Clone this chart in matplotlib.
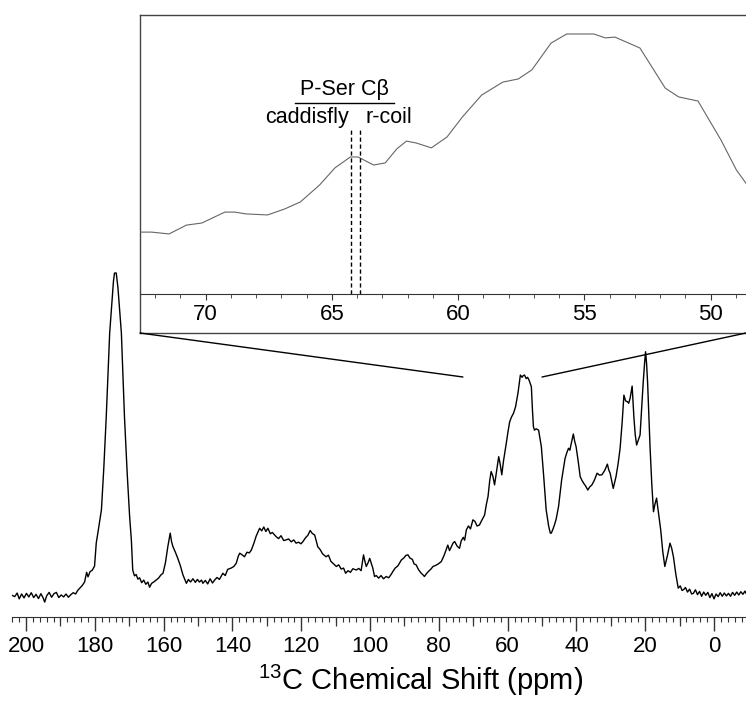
import numpy as np
import matplotlib
matplotlib.use('Agg')
from matplotlib import pyplot as plt
from matplotlib.patches import ConnectionPatch

plt.rcParams['font.family'] = ['Liberation Sans', 'DejaVu Sans']
plt.rcParams['mathtext.fontset'] = 'custom'
plt.rcParams['mathtext.rm'] = 'Liberation Sans'

# full 13C spectrum (ppm, intensity in arbitrary units)
ppm = [204.1, 203.3, 202.6, 202.0, 201.3, 200.6, 199.9, 199.2, 198.5, 197.8,
       197.1, 196.4, 195.7, 195.0, 194.6, 194.0, 193.3, 192.6, 191.9, 191.2,
       190.5, 189.8, 189.1, 188.4, 187.7, 187.0, 186.3, 185.6, 185.0, 184.4,
       183.7, 183.0, 182.4, 182.0, 181.4, 180.8, 180.1, 179.6, 179.1, 178.1,
       177.4, 176.7, 175.7, 174.6, 174.3, 173.8, 173.3, 172.3, 171.4, 170.6,
       169.9, 169.4, 169.0, 168.5, 168.0, 167.5, 167.0, 166.4, 165.8, 165.2,
       164.6, 164.1, 163.5, 162.9, 162.2, 161.5, 160.8, 160.2, 159.5, 158.8,
       158.1, 157.7, 157.3, 156.6, 155.9, 155.2, 154.4, 153.8, 153.4, 152.8,
       152.2, 151.5, 150.8, 150.2, 149.6, 149.0, 148.6, 147.9, 147.2, 146.5,
       145.8, 145.2, 144.5, 143.8, 142.8, 142.1, 141.4, 140.4, 139.6, 138.9,
       138.3, 137.9, 137.2, 136.5, 135.8, 135.1, 134.5, 133.8, 133.1, 132.1,
       131.5, 130.9, 130.3, 129.7, 129.0, 128.4, 127.3, 126.6, 125.9, 125.1,
       124.4, 123.7, 122.9, 122.2, 121.5, 120.8, 120.1, 119.5, 118.8, 118.1,
       117.4, 116.8, 116.1, 115.2, 114.5, 113.8, 112.8, 112.1, 111.4, 110.6,
       109.8, 109.1, 108.4, 107.7, 107.1, 106.4, 105.7, 105.0, 104.0, 103.3,
       102.6, 101.9, 101.5, 101.1, 100.6, 100.1, 99.6, 99.2, 98.7, 98.2,
       97.5, 96.8, 96.1, 95.3, 94.6, 93.9, 93.4, 92.7, 91.9, 90.9,
       90.2, 89.6, 89.0, 88.4, 87.7, 87.2, 86.6, 85.9, 85.2, 84.6,
       84.2, 83.6, 82.9, 82.3, 81.7, 81.0, 80.3, 79.3, 78.6, 78.0,
       77.4, 76.9, 76.4, 75.9, 75.4, 74.7, 74.0, 73.5, 72.9, 72.5,
       72.0, 71.4, 70.8, 70.1, 69.5, 68.9, 68.2, 67.6, 66.7, 66.2,
       65.7, 65.2, 64.8, 64.3, 63.8, 63.2, 62.6, 62.2, 61.7, 61.2,
       60.4, 59.9, 59.4, 58.9, 58.3, 57.7, 57.0, 56.6, 56.3, 55.8,
       55.5, 55.1, 54.6, 54.2, 53.8, 53.4, 53.1, 52.8, 52.5, 52.2,
       51.7, 51.0, 50.6, 50.2, 49.5, 48.8, 48.1, 47.6, 47.3, 46.8,
       46.4, 45.9, 45.2, 44.3, 43.3, 42.8, 42.3, 41.9, 41.6, 40.9,
       40.5, 40.1, 39.5, 38.9, 38.4, 37.9, 37.3, 36.7, 36.1, 35.5,
       34.8, 34.0, 33.3, 32.6, 31.8, 31.0, 30.6, 30.2, 29.3, 28.5,
       27.9, 27.3, 26.7, 26.2, 25.7, 25.2, 24.8, 24.4, 23.8, 23.3,
       22.9, 22.5, 22.0, 21.5, 21.1, 20.6, 20.2, 19.9, 19.6, 19.3,
       18.6, 18.1, 17.6, 17.2, 16.7, 16.1, 15.5, 14.9, 14.3, 13.6,
       12.8, 12.3, 11.8, 11.1, 10.4, 9.8, 9.3, 8.9, 8.3, 7.7,
       7.1, 6.5, 6.0, 5.4, 4.8, 4.2, 3.6, 3.0, 2.4, 1.8,
       1.2, 0.6, 0.0, -0.6, -1.2, -1.8, -2.4, -3.0, -3.6, -4.2,
       -4.8, -5.4, -6.0, -6.6, -7.2, -7.8, -8.4, -9.0, -9.3]
intensity = [0.5, 0.1, 1.2, -0.6, 0.9, -0.3, 1.1, 0.0, 1.3, -0.2,
             0.8, -0.5, 1.0, -0.4, -1.6, 0.4, 1.4, -0.1, 1.0, 1.4,
             -0.2, 0.6, 0.0, 0.9, -0.1, 0.7, 1.3, 0.9, 2.0, 2.7,
             3.5, 4.6, 7.6, 6.2, 7.8, 8.2, 9.5, 16.7, 20.0, 26.9,
             40.0, 55.6, 81.5, 97.5, 100.0, 100.0, 95.5, 81.5, 55.6, 38.0,
             24.8, 17.6, 8.3, 6.5, 6.9, 5.5, 5.9, 4.4, 5.2, 3.9,
             4.6, 3.0, 4.2, 4.6, 5.2, 5.8, 6.8, 7.3, 10.5, 15.5,
             19.7, 17.0, 15.5, 13.8, 11.9, 9.8, 6.8, 5.2, 4.2, 5.4,
             4.6, 5.6, 4.5, 5.4, 4.6, 5.2, 4.2, 5.1, 4.0, 5.6,
             4.3, 5.2, 6.0, 5.4, 7.3, 6.6, 8.5, 8.9, 9.4, 10.4,
             12.6, 13.5, 13.0, 12.4, 13.8, 13.6, 14.5, 16.5, 18.8, 21.2,
             20.4, 21.6, 20.2, 21.2, 19.5, 19.9, 18.6, 18.0, 18.9, 17.4,
             17.6, 17.9, 17.0, 17.6, 16.6, 16.9, 16.4, 17.1, 18.2, 19.0,
             20.5, 19.6, 19.1, 15.5, 14.6, 13.3, 12.4, 12.9, 11.0, 10.2,
             9.4, 9.9, 8.6, 8.9, 7.3, 8.1, 7.6, 8.7, 8.3, 8.8,
             8.1, 13.0, 11.0, 9.4, 10.5, 11.9, 10.2, 8.9, 6.3, 6.6,
             5.8, 6.6, 5.6, 6.3, 5.9, 6.9, 7.8, 8.9, 9.6, 11.4,
             12.0, 12.8, 13.0, 12.0, 11.6, 10.2, 9.9, 8.4, 7.4, 6.8,
             6.3, 7.2, 8.0, 8.6, 9.4, 9.7, 10.1, 10.9, 12.5, 14.2,
             16.0, 14.3, 15.4, 16.6, 17.1, 15.7, 15.0, 17.3, 18.4, 17.5,
             20.7, 21.9, 21.0, 23.8, 23.3, 21.9, 22.2, 23.5, 25.3, 28.5,
             31.0, 36.0, 38.7, 37.3, 34.6, 39.0, 43.3, 41.2, 37.7, 42.0,
             47.4, 51.0, 54.1, 55.5, 56.7, 58.7, 62.9, 66.2, 68.5, 67.8,
             68.3, 68.5, 67.4, 67.8, 67.0, 65.8, 64.9, 58.0, 52.5, 51.5,
             51.9, 51.5, 49.0, 46.4, 37.0, 26.9, 22.0, 19.7, 19.7, 21.0,
             22.2, 24.0, 27.9, 36.1, 42.8, 44.5, 45.9, 45.3, 46.9, 50.3,
             48.0, 46.4, 42.0, 37.1, 36.0, 35.1, 34.2, 33.0, 34.0, 34.6,
             36.0, 38.2, 37.6, 37.7, 39.0, 41.0, 39.2, 38.2, 33.5, 37.1,
             41.0, 45.9, 54.0, 62.3, 60.5, 60.3, 59.8, 61.3, 65.1, 55.6,
             50.0, 46.9, 48.5, 50.0, 57.0, 66.0, 72.0, 75.7, 72.0, 66.0,
             46.4, 35.0, 26.3, 28.5, 30.5, 25.5, 20.7, 14.0, 9.4, 12.5,
             16.6, 15.0, 12.4, 7.0, 2.7, 3.4, 2.0, 2.2, 2.9, 1.5,
             2.4, 0.9, 1.1, 2.2, 0.7, 1.7, 0.2, 1.5, 0.5, 1.4,
             -0.2, 1.0, -0.6, 0.9, 0.1, 1.3, 0.2, 1.2, 0.3, 1.1,
             0.2, 1.4, 0.5, 1.5, 0.6, 1.6, 0.8, 1.8, 1.1]

# expanded region 72.6 - 48.6 ppm (inset)
inset_ppm = [72.6, 72.14, 71.45, 70.76, 70.15, 69.24, 68.85, 68.4, 67.55, 66.87,
             66.25, 65.49, 64.88, 64.27, 63.96, 63.35, 62.89, 62.43, 62.05, 61.67,
             61.06, 60.44, 59.83, 59.07, 58.23, 57.62, 57.08, 56.32, 55.7, 54.63,
             54.17, 53.79, 52.8, 51.8, 51.27, 50.5, 49.59, 48.98, 48.55]
inset_int = [23.8, 23.8, 23.1, 26.5, 27.3, 31.5, 31.5, 30.8, 30.4, 32.7,
             35.4, 41.9, 48.5, 52.7, 52.7, 49.6, 50.4, 55.8, 58.8, 58.1,
             56.2, 60.4, 68.1, 76.5, 81.5, 82.7, 86.2, 96.5, 100.0, 100.0,
             98.5, 98.8, 94.6, 79.2, 75.8, 74.2, 59.2, 47.7, 41.9]

pser_caddisfly = 64.24
pser_rcoil = 63.87

W, H = 746, 705
fig = plt.figure(figsize=(W / 100, H / 100), dpi=100)

# main spectrum
ax = fig.add_axes([12 / W, 88 / H, 1 - 12 / W, 617 / H])
ax.plot(ppm, intensity, color='black', lw=1.0)
ax.set_xlim(204.1, -9.3)
ax.set_ylim(-6.2, 184.3)
for s in ['left', 'top', 'right']:
    ax.spines[s].set_visible(False)
ax.spines['bottom'].set_color('#333333')
ax.set_yticks([])
ax.set_xticks(np.arange(200, -1, -20))
ax.set_xticks(np.arange(204, -10, -2), minor=True)
ax.tick_params(axis='x', which='major', direction='out', length=10, width=1,
               labelsize=16, pad=4, color='#333333')
ax.tick_params(axis='x', which='minor', direction='out', length=3.5, width=0.8,
               color='#333333')
sec = ax.secondary_xaxis('bottom')
sec.set_xticks(np.arange(190, -1, -20))
sec.set_xticklabels([])
sec.tick_params(axis='x', direction='out', length=6.5, width=0.9, color='#333333')
sec.spines['bottom'].set_visible(False)
ax.set_xlabel(r'$\mathregular{^{13}}$C Chemical Shift (ppm)', fontsize=21, labelpad=3)
ax.xaxis.set_label_coords(0.556, -0.075)

# frame around the inset
frame = fig.add_axes([140 / W, (H - 333) / H, 1 - 140 / W, 318 / H])
frame.set_xticks([])
frame.set_yticks([])
frame.patch.set_alpha(0)
frame.spines['right'].set_visible(False)
for s in ['left', 'top', 'bottom']:
    frame.spines[s].set_color('#444444')
    frame.spines[s].set_linewidth(1.0)

# inset spectrum
ins = fig.add_axes([140 / W, (H - 294) / H, 1 - 140 / W, 279 / H])
ins.patch.set_alpha(0)
ins.plot(inset_ppm, inset_int, color='#666666', lw=0.8)
ins.set_xlim(72.6, 48.6)
ins.set_ylim(0, 107.3)
for s in ['left', 'top', 'right']:
    ins.spines[s].set_visible(False)
ins.spines['bottom'].set_color('#333333')
ins.set_yticks([])
ins.set_xticks([70, 65, 60, 55, 50])
ins.set_xticks(np.arange(72, 48, -1), minor=True)
ins.tick_params(axis='x', which='major', direction='out', length=4, labelsize=16,
                pad=3, color='#333333')
ins.tick_params(axis='x', which='minor', direction='out', length=3, color='#333333')

# P-Ser C-beta markers
for x in [pser_caddisfly, pser_rcoil]:
    ins.plot([x, x], [0, 63.8], color='black', lw=1.0, ls=(0, (3, 2)))
ins.plot([66.48, 62.54], [73.5, 73.5], color='black', lw=1.0)
ins.text(64.5, 74.5, 'P-Ser Cβ', ha='center', va='bottom', fontsize=15.5)
ins.text(64.34, 72.0, 'caddisfly', ha='right', va='top', fontsize=15.5)
ins.text(63.65, 72.0, 'r-coil', ha='left', va='top', fontsize=15.5)

# connector lines from the inset to the main spectrum
for fx, px in [(0, 73.0), (1, 50.0)]:
    con = ConnectionPatch(xyA=(fx, 0), coordsA=frame.transAxes,
                          xyB=(px, 67.9), coordsB=ax.transData,
                          color='black', lw=1.0)
    fig.add_artist(con)

fig.savefig('out.png', dpi=100)
